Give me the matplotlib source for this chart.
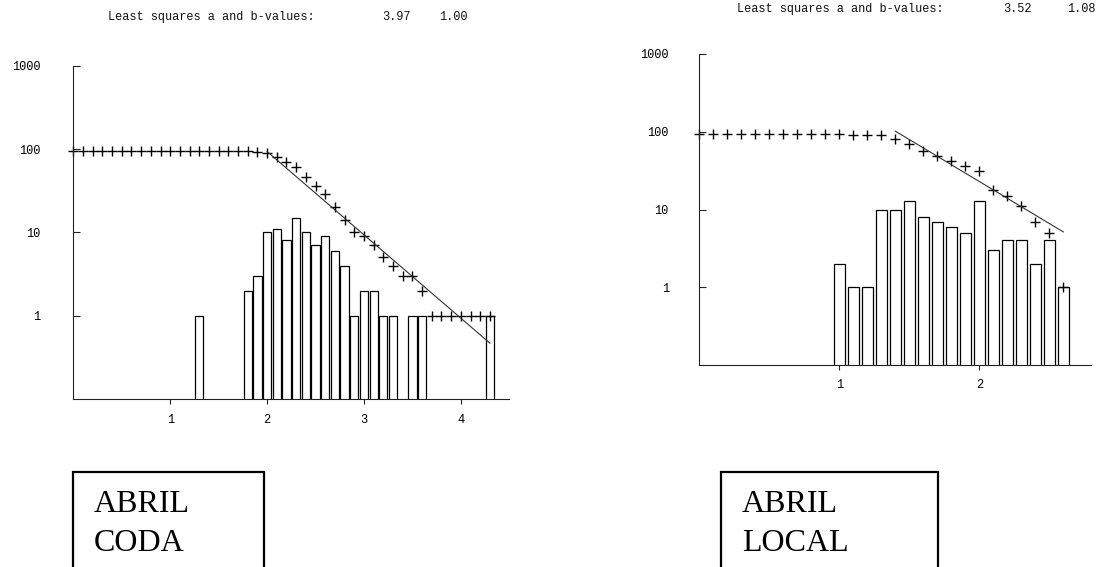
import numpy as np
import matplotlib.pyplot as plt
from matplotlib.patches import Rectangle
from matplotlib.ticker import NullLocator

# Histogramas de magnitud (conteo por intervalo de 0.1)
coda_mag = [1.3, 1.8, 1.9, 2.0, 2.1, 2.2, 2.3, 2.4, 2.5, 2.6, 2.7, 2.8, 2.9,
            3.0, 3.1, 3.2, 3.3, 3.5, 3.6, 4.3]
coda_count = [1, 2, 3, 10, 11, 8, 15, 10, 7, 9, 6, 4, 1, 2, 2, 1, 1, 1, 1, 1]

local_mag = [1.0, 1.1, 1.2, 1.3, 1.4, 1.5, 1.6, 1.7, 1.8, 1.9, 2.0, 2.1, 2.2,
             2.3, 2.4, 2.5, 2.6]
local_count = [2, 1, 1, 10, 10, 13, 8, 7, 6, 5, 13, 3, 4, 4, 2, 4, 1]

# Numero acumulado N(>=M)
coda_cum_mag = [0.0, 0.1, 0.2, 0.3, 0.4, 0.5, 0.6, 0.7, 0.8, 0.9, 1.0, 1.1,
                1.2, 1.3, 1.4, 1.5, 1.6, 1.7, 1.8, 1.9, 2.0, 2.1, 2.2, 2.3,
                2.4, 2.5, 2.6, 2.7, 2.8, 2.9, 3.0, 3.1, 3.2, 3.3, 3.4, 3.5,
                3.6, 3.7, 3.8, 3.9, 4.0, 4.1, 4.2, 4.3]
coda_cum = [96, 96, 96, 96, 96, 96, 96, 96, 96, 96, 96, 96, 96, 96, 95, 95,
            95, 95, 95, 93, 90, 80, 69, 61, 46, 36, 29, 20, 14, 10, 9, 7, 5,
            4, 3, 3, 2, 1, 1, 1, 1, 1, 1, 1]

local_cum_mag = [0.0, 0.1, 0.2, 0.3, 0.4, 0.5, 0.6, 0.7, 0.8, 0.9, 1.0, 1.1,
                 1.2, 1.3, 1.4, 1.5, 1.6, 1.7, 1.8, 1.9, 2.0, 2.1, 2.2, 2.3,
                 2.4, 2.5, 2.6]
local_cum = [94, 94, 94, 94, 94, 94, 94, 94, 94, 94, 94, 92, 91, 90, 80, 70,
             57, 49, 42, 36, 31, 18, 15, 11, 7, 5, 1]

# Ajuste por minimos cuadrados: log N = a - b M
coda_a, coda_b = 3.97, 1.00
local_a, local_b = 3.52, 1.08
coda_fit_range = [2.0, 4.3]
local_fit_range = [1.4, 2.6]

W, H = 1107, 567
fig = plt.figure(figsize=(W / 100, H / 100), dpi=100)
mono = "Liberation Mono"


def ejes_px(x0, x1, y_top, y_bot):
    return fig.add_axes([x0 / W, 1 - y_bot / H, (x1 - x0) / W, (y_bot - y_top) / H])


def panel(ax, mags, counts, cum_mags, cum, a, b, fit_range, xmax, width,
          xticks, ypad, xpad):
    ax.bar(mags, counts, width=width, color="white", edgecolor="black",
           linewidth=0.9)
    ax.plot(cum_mags, cum, "+", color="black", ms=7, mew=1.0, clip_on=False)
    m = np.array(fit_range)
    ax.plot(m, 10 ** (a - b * m), color="#333333", lw=0.8)

    ax.set_yscale("log")
    ax.set_ylim(0.1, 1000)
    ax.set_xlim(0, xmax)
    ax.set_yticks([1, 10, 100, 1000])
    ax.set_yticklabels(["1", "10", "100", "1000"])
    ax.yaxis.set_minor_locator(NullLocator())
    ax.set_xticks(xticks)
    ax.set_xticklabels([str(t) for t in xticks])

    for s in ["top", "right"]:
        ax.spines[s].set_visible(False)
    for s in ["left", "bottom"]:
        ax.spines[s].set_linewidth(0.8)
        ax.spines[s].set_color("#222222")

    ax.tick_params(axis="y", direction="in", length=5, width=0.8, pad=ypad,
                   labelsize=8.6, color="#222222")
    ax.tick_params(axis="x", direction="out", length=3.5, width=0.8, pad=xpad,
                   labelsize=8.6, color="#222222")
    for lab in ax.get_xticklabels() + ax.get_yticklabels():
        lab.set_family(mono)
    ax.patch.set_alpha(0)


ax1 = ejes_px(73.3, 509.3, 65.7, 399)
panel(ax1, coda_mag, coda_count, coda_cum_mag, coda_cum, coda_a, coda_b,
      coda_fit_range, 4.5, 0.085, [1, 2, 3, 4], 23.5, 7.5)

ax2 = ejes_px(699.3, 1091.3, 54, 365)
panel(ax2, local_mag, local_count, local_cum_mag, local_cum, local_a, local_b,
      local_fit_range, 2.8, 0.08, [1, 2], 22, 6.5)

# Encabezados con los valores a y b
for x0, y0, xa, xb, a, b in [(108, 17, 382.7, 439, coda_a, coda_b),
                             (736.7, 9, 1003.3, 1066.7, local_a, local_b)]:
    fig.text(x0 / W, 1 - y0 / H, "Least squares a and b-values:", family=mono,
             size=8.6, va="center", color="#111111")
    fig.text(xa / W, 1 - y0 / H, f"{a:.2f}", family=mono, size=8.6,
             va="center", color="#111111")
    fig.text(xb / W, 1 - y0 / H, f"{b:.2f}", family=mono, size=8.6,
             va="center", color="#111111")

# Recuadros con el nombre de cada grafico
for x0, x1, lineas in [(72.7, 264.3, ["ABRIL", "CODA"]),
                       (720.7, 937.7, ["ABRIL", "LOCAL"])]:
    rect = Rectangle((x0 / W, -0.1), (x1 - x0) / W, 0.1 + (1 - 472.3 / H),
                     transform=fig.transFigure, fill=False, lw=1.6,
                     edgecolor="black", clip_on=False)
    fig.add_artist(rect)
    for i, t in enumerate(lineas):
        fig.text((x0 + 21) / W, 1 - (511.7 + 39 * i) / H, t,
                 family="Liberation Serif", size=23, va="baseline")

fig.savefig("out.png", dpi=100)
